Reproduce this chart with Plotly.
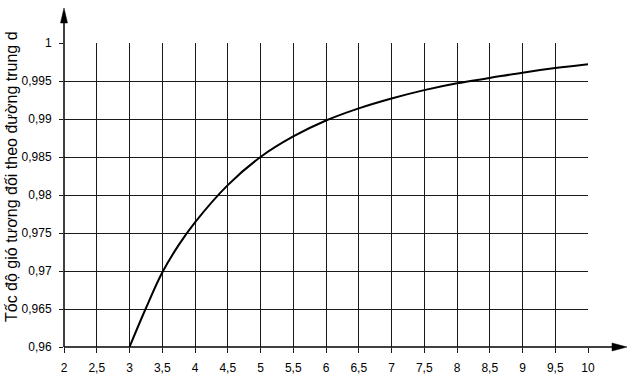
import plotly.graph_objects as go

x_vals = [3.0, 3.25, 3.5, 3.75, 4.0, 4.5, 5.0, 5.5, 6.0, 6.5, 7.0, 7.5, 8.0, 8.5, 9.0, 9.5, 10.0]
y_vals = [0.960, 0.9651, 0.9698, 0.9734, 0.9764, 0.9813, 0.9850, 0.9877, 0.9898, 0.9914, 0.9927, 0.9938, 0.9947, 0.9954, 0.9961, 0.9967, 0.9972]

x_ticks = [2 + 0.5 * i for i in range(17)]
y_ticks = [0.96 + 0.005 * i for i in range(9)]

def fmt(v, nd):
    s = ("%.*f" % (nd, v)).rstrip("0").rstrip(".")
    return s.replace(".", ",")

x_labels = [fmt(v, 1) for v in x_ticks]
y_labels = [fmt(v, 3) for v in y_ticks]

y_title = "Tốc độ gió tương đối theo đường trung d"

FONT = "Liberation Sans, Arial, sans-serif"

fig = go.Figure()
fig.add_trace(go.Scatter(
    x=x_vals, y=y_vals, mode="lines",
    line=dict(color="#000000", width=2, shape="spline", smoothing=1.0),
    hoverinfo="skip", showlegend=False,
))

L, R, T, B = 64, 43, 43, 27
W, H = 631, 374
pw, ph = W - L - R, H - T - B

fig.update_layout(
    width=W, height=H,
    margin=dict(l=L, r=R, t=T, b=B, pad=0, autoexpand=False),
    paper_bgcolor="white", plot_bgcolor="white",
    font=dict(family=FONT, size=12, color="#000"),
    showlegend=False,
    xaxis=dict(
        range=[2, 10], tickmode="array", tickvals=x_ticks, ticktext=x_labels,
        showgrid=True, gridcolor="#1a1a1a", gridwidth=1.3,
        ticks="outside", ticklen=5, tickcolor="#1a1a1a", tickwidth=1.3,
        ticklabelstandoff=5, automargin=False,
        zeroline=False, showline=False, fixedrange=True,
    ),
    yaxis=dict(
        range=[0.96, 1.0], tickmode="array", tickvals=y_ticks, ticktext=y_labels,
        showgrid=True, gridcolor="#1a1a1a", gridwidth=1.3,
        ticks="outside", ticklen=4, tickcolor="#1a1a1a", tickwidth=1.3,
        ticklabelstandoff=5, automargin=False,
        zeroline=False, showline=False, fixedrange=True,
    ),
)

# axis lines with arrows (paper coordinates)
x_end = (627 - L) / pw
y_end = (H - B - 8) / ph
fig.add_shape(type="line", xref="paper", yref="paper", x0=0, y0=0, x1=x_end - 0.01, y1=0,
              line=dict(color="#000", width=1.5))
fig.add_shape(type="line", xref="paper", yref="paper", x0=0, y0=0, x1=0, y1=y_end - 0.02,
              line=dict(color="#000", width=1.5))
ax_len = 15 / pw
ah = 4 / ph
fig.add_shape(type="path", xref="paper", yref="paper",
              path=f"M {x_end} 0 L {x_end - ax_len} {ah} L {x_end - ax_len} {-ah} Z",
              fillcolor="#000", line=dict(color="#000", width=0.5))
ay_len = 15 / ph
aw = 3.5 / pw
fig.add_shape(type="path", xref="paper", yref="paper",
              path=f"M 0 {y_end} L {aw} {y_end - ay_len} L {-aw} {y_end - ay_len} Z",
              fillcolor="#000", line=dict(color="#000", width=0.5))

fig.add_annotation(
    text=y_title, xref="paper", yref="paper",
    x=(11 - L) / pw, y=(H - B - 177) / ph,
    xanchor="center", yanchor="middle", textangle=-90, showarrow=False,
    font=dict(family=FONT, size=16, color="#000"),
)

fig.write_html("out.html")
